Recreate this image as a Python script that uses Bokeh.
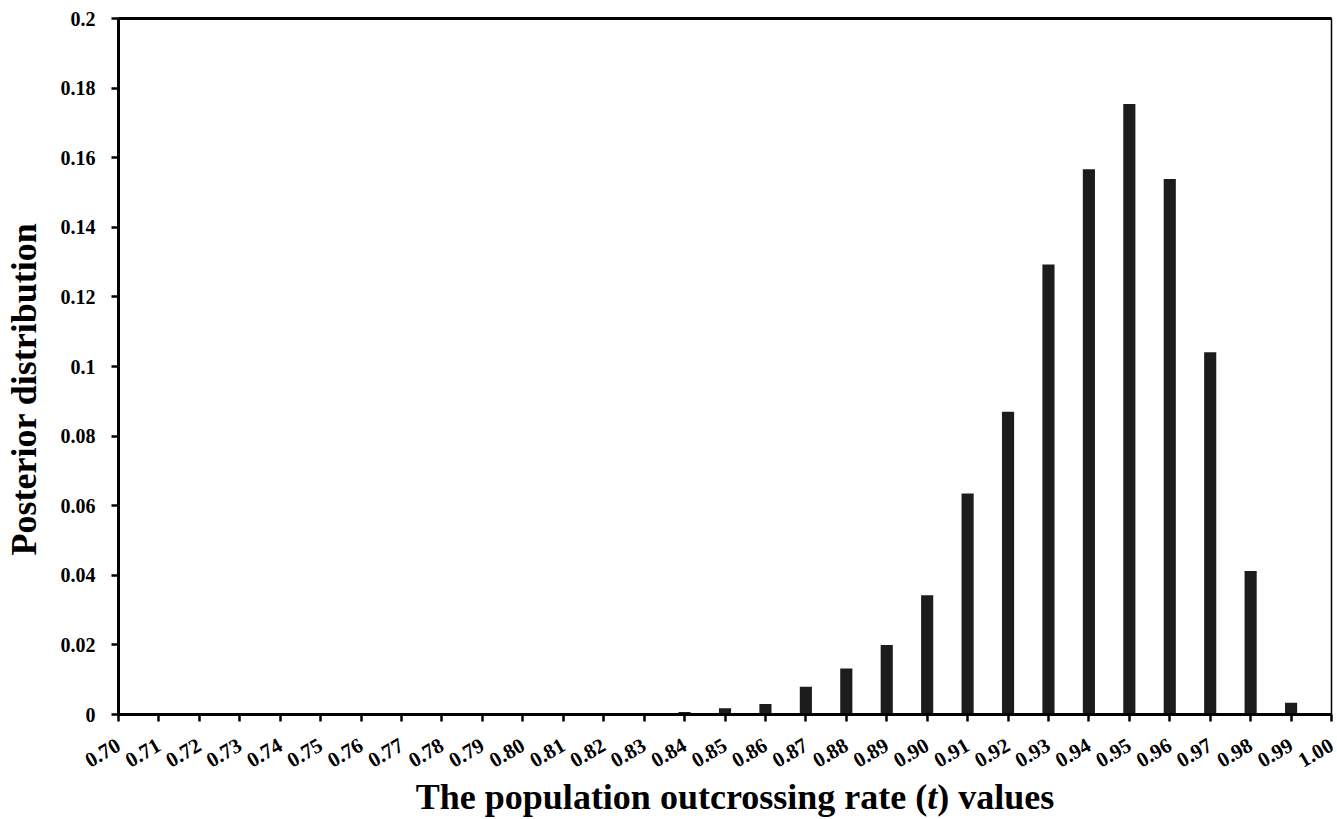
import math
from bokeh.plotting import figure
from bokeh.layouts import column
from bokeh.models import (ColumnDataSource, Range1d, FixedTicker, LinearAxis,
                          CustomJSTickFormatter, Div)
from bokeh.embed import file_html
from bokeh.resources import INLINE

# ---- data ----
t_values = [0.70, 0.71, 0.72, 0.73, 0.74, 0.75, 0.76, 0.77, 0.78, 0.79,
            0.80, 0.81, 0.82, 0.83, 0.84, 0.85, 0.86, 0.87, 0.88, 0.89,
            0.90, 0.91, 0.92, 0.93, 0.94, 0.95, 0.96, 0.97, 0.98, 0.99, 1.00]
posterior = [0.0, 0.0, 0.0, 0.0, 0.0, 0.0, 0.0, 0.0, 0.0, 0.0,
             0.0, 0.0, 0.0, 0.0, 0.0007, 0.0018, 0.003, 0.008, 0.0132, 0.020,
             0.0343, 0.0635, 0.087, 0.1293, 0.1567, 0.1754, 0.1539, 0.1041, 0.0412, 0.0034, 0.0]
y_ticks = [0, 0.02, 0.04, 0.06, 0.08, 0.1, 0.12, 0.14, 0.16, 0.18, 0.2]
x_title_parts = ["The population outcrossing rate (", "t", ") values"]
y_title = "Posterior distribution"

FONT = "Liberation Serif"
W = 1337

src = ColumnDataSource(dict(t=t_values, p=posterior))

p = figure(width=W, height=776, output_backend="svg", toolbar_location=None,
           x_range=Range1d(0.70, 1.00), y_range=Range1d(0, 0.2),
           min_border_left=118, min_border_right=6, min_border_top=18,
           min_border_bottom=59)
p.background_fill_color = "white"
p.border_fill_color = "white"
p.grid.visible = False
p.outline_line_color = "black"
p.outline_line_width = 1.5

p.vbar(x="t", top="p", bottom=0, width=0.003, source=src,
       fill_color="#1c1c1c", line_color=None)

# x axis
xa = p.xaxis[0]
xa.ticker = FixedTicker(ticks=t_values)
xa.formatter = CustomJSTickFormatter(code="return tick.toFixed(2)")
xa.major_label_orientation = math.pi / 6
xa.major_label_text_font = FONT
xa.major_label_text_font_style = "bold"
xa.major_label_text_font_size = "21px"
xa.major_label_text_color = "black"
xa.major_label_standoff = 22
xa.axis_line_width = 3
xa.axis_line_color = "black"
xa.major_tick_line_width = 2.5
xa.major_tick_line_color = "black"
xa.major_tick_in = 0
xa.major_tick_out = 7
xa.minor_tick_line_color = None

# y axis
ya = p.yaxis[0]
ya.ticker = FixedTicker(ticks=y_ticks)
ya.formatter = CustomJSTickFormatter(code="return String(Math.round(tick*100)/100)")
ya.major_label_text_font = FONT
ya.major_label_text_font_style = "bold"
ya.major_label_text_font_size = "20px"
ya.major_label_text_color = "black"
ya.major_label_standoff = 16
ya.axis_line_width = 3
ya.axis_line_color = "black"
ya.major_tick_line_width = 2.5
ya.major_tick_line_color = "black"
ya.major_tick_in = 0
ya.major_tick_out = 7
ya.minor_tick_line_color = None
# trailing no-break spaces nudge the centred label slightly downward, as in the reference
ya.axis_label = y_title + "\u00a0" * 5
ya.axis_label_text_font = FONT
ya.axis_label_text_font_style = "bold"
ya.axis_label_text_font_size = "36px"
ya.axis_label_text_color = "black"
ya.axis_label_standoff = 14

# thick top border
top = LinearAxis(major_tick_line_color=None, minor_tick_line_color=None,
                 major_label_text_font_size="0px", axis_line_width=3,
                 axis_line_color="black", ticker=FixedTicker(ticks=[]))
p.add_layout(top, "above")

# x title with italic t
title_html = (
    f'<div style="width:{W}px;box-sizing:border-box;padding-left:133px;'
    f'text-align:center;white-space:nowrap;font-family:\'{FONT}\';'
    'font-weight:bold;font-size:36px;line-height:43px;color:black;">'
    f'{x_title_parts[0]}<i>{x_title_parts[1]}</i>{x_title_parts[2]}</div>'
)
title = Div(text=title_html, width=W, height=43, margin=(0, 0, 0, 0))

layout = column(p, title, spacing=0)
open("out.html", "w").write(file_html(layout, INLINE))
